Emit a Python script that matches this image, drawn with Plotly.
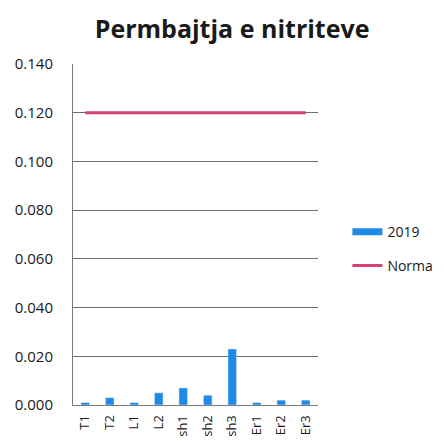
import plotly.graph_objects as go

categories = ["T1", "T2", "L1", "L2", "sh1", "sh2", "sh3", "Er1", "Er2", "Er3"]
values_2019 = [0.001, 0.003, 0.001, 0.005, 0.007, 0.004, 0.023, 0.001, 0.002, 0.002]
norma = [0.120] * len(categories)
y_ticks = [0.0, 0.02, 0.04, 0.06, 0.08, 0.10, 0.12, 0.14]
y_tick_labels = ["0.000", "0.020", "0.040", "0.060", "0.080", "0.100", "0.120", "0.140"]

BLUE = "#1f8ae6"
PINK = "#d4416f"

fig = go.Figure()
fig.add_trace(go.Bar(x=categories, y=values_2019, name="2019", marker_color=BLUE,
                     width=0.35, showlegend=False))
fig.add_trace(go.Scatter(x=categories, y=norma, name="Norma", mode="lines",
                         line=dict(color=PINK, width=3), showlegend=False))
# legend entries
fig.add_trace(go.Scatter(x=[None], y=[None], name="2019", mode="lines",
                         line=dict(color=BLUE, width=7), legend="legend"))
fig.add_trace(go.Scatter(x=[None], y=[None], name="Norma", mode="lines",
                         line=dict(color=PINK, width=3), legend="legend2"))

legend_common = dict(xanchor="left", yanchor="middle", font=dict(size=14),
                     itemwidth=30, bgcolor="rgba(0,0,0,0)")

# page body has an 8px margin, so the figure is shifted by -8px on each side
fig.update_layout(
    width=436, height=433,
    margin=dict(l=65, r=126, t=56, b=36, autoexpand=False),
    paper_bgcolor="white", plot_bgcolor="white",
    font=dict(family="Open Sans", size=14, color="#1a1a1a"),
    title=dict(text="<b>Permbajtja e nitriteve</b>", x=0.514, xanchor="center",
               y=0.952, yanchor="middle", font=dict(size=25, color="#1a1a1a")),
    xaxis=dict(type="category", tickangle=-90, showgrid=False, automargin=False,
               ticks="outside", ticklen=4, tickcolor="rgba(0,0,0,0)",
               showline=True, linecolor="#7a7a7a", linewidth=1,
               tickfont=dict(size=13)),
    yaxis=dict(range=[0, 0.14], tickvals=y_ticks, ticktext=y_tick_labels,
               showgrid=True, gridcolor="#6e6e6e", gridwidth=1, automargin=False,
               showline=True, linecolor="#7a7a7a", zeroline=False,
               tickfont=dict(size=15), ticks="outside", ticklen=16,
               tickcolor="rgba(0,0,0,0)"),
    legend=dict(x=1.12, y=0.507, **legend_common),
    legend2=dict(x=1.12, y=0.408, **legend_common),
    showlegend=True,
    bargap=0.6,
)

fig.write_html("out.html")
